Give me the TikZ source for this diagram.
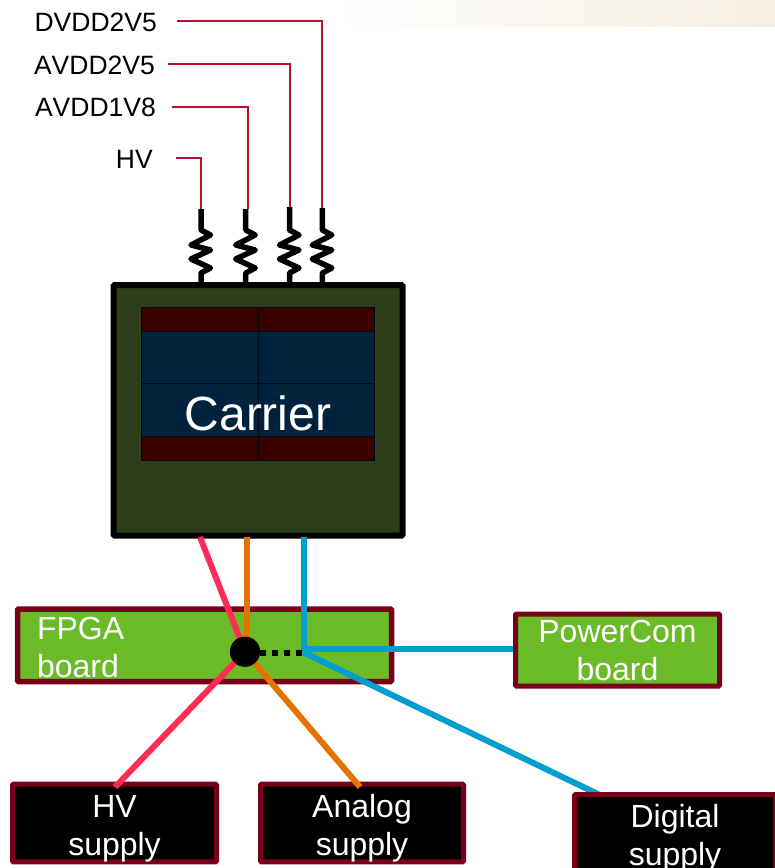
\documentclass[tikz,border=0pt]{standalone}
\usepackage{fontspec}
\setmainfont{Liberation Sans}
\definecolor{boxedge}{HTML}{7A0019}
\definecolor{wirered}{HTML}{B5122E}
\definecolor{boardgreen}{HTML}{6BBB29}
\definecolor{carriergreen}{HTML}{2E3D1A}
\definecolor{stripred}{HTML}{3A0000}
\definecolor{sensorblue}{HTML}{00233D}
\definecolor{pinkline}{HTML}{FF2D55}
\definecolor{orangeline}{HTML}{E57200}
\definecolor{blueline}{HTML}{009FD0}
\definecolor{banner}{HTML}{F5EEE2}
\tikzset{
  x=1pt,y=-1pt,
  boxbase/.style={draw=boxedge,line width=5pt,rounded corners=1pt,inner sep=0pt,text=white,
    font=\fontsize{32}{38}\selectfont,align=center},
  boardbox/.style={boxbase,fill=boardgreen},
  supplybox/.style={boxbase,fill=black},
  vlabel/.style={inner sep=0pt,font=\fontsize{26.5}{30}\selectfont\addfontfeature{Kerning=Off},text=black,anchor=base east},
  redwire/.style={draw=wirered,line width=2pt},
  resistor/.style={draw=black,line width=5.5pt,line join=round},
  feed/.style={line width=6pt},
  sensorcell/.style={draw=black!70!sensorblue,line width=.6pt,inner sep=0pt,outer sep=0pt},
}
\begin{document}
\begin{tikzpicture}
\clip (0,0) rectangle (775,868);
\shade[left color=white,middle color=banner!70!white,right color=banner,shading angle=90] (335,0) rectangle (775,26);

% carrier
\node[draw=black,fill=carriergreen,line width=6pt,rounded corners=1pt,minimum width=289pt,minimum height=250.5pt,inner sep=0pt] (carrier) at (258,410.25) {};
\node[sensorcell,fill=stripred,minimum width=116.5pt,minimum height=24pt] (s1) at (199.75,319) {};
\node[sensorcell,fill=stripred,minimum width=116.5pt,minimum height=24pt] (s2) at (316.25,319) {};
\node[sensorcell,fill=sensorblue,minimum width=116.5pt,minimum height=52.5pt] (s3) at (199.75,357.25) {};
\node[sensorcell,fill=sensorblue,minimum width=116.5pt,minimum height=52.5pt] (s4) at (316.25,357.25) {};
\node[sensorcell,fill=sensorblue,minimum width=116.5pt,minimum height=52.5pt] (s5) at (199.75,409.75) {};
\node[sensorcell,fill=sensorblue,minimum width=116.5pt,minimum height=52.5pt] (s6) at (316.25,409.75) {};
\node[sensorcell,fill=stripred,minimum width=116.5pt,minimum height=24pt] (s7) at (199.75,448) {};
\node[sensorcell,fill=stripred,minimum width=116.5pt,minimum height=24pt] (s8) at (316.25,448) {};
\node[inner sep=0pt,text=white,font=\fontsize{48}{52}\selectfont,anchor=base] (carriertext) at (258,430) {Carrier};

% voltage labels
\node[vlabel] (dvdd) at (157,31) {DVDD2V5};
\node[vlabel] (avddb) at (155,74) {AVDD2V5};
\node[vlabel] (avdda) at (156,116) {AVDD1V8};
\node[vlabel] (hvlab) at (153,168) {HV};
\coordinate (wd) at (177,21);
\coordinate (wc) at (168,64);
\coordinate (wb) at (172,107);
\coordinate (wa) at (176,158);

% resistors
\foreach \n/\x/\y in {a/201/209,b/245.7/209,c/289.5/207,d/322.3/208}{
  \coordinate (r\n top) at (\x,\y);
  \coordinate (r\n bot) at (\x,283);
  \draw[resistor] (r\n top) -- (\x,230) -- (\x+9.5,235) -- (\x-10,245) -- (\x+9.5,250) -- (\x-10,259) -- (\x+9.5,268) -- (\x,273) -- (r\n bot);
}
\coordinate (rbwire) at (247.7,209);
\draw[redwire] (wd) -| (rdtop);
\draw[redwire] (wc) -| (rctop);
\draw[redwire] (wb) -| (rbwire);
\draw[redwire] (wa) -| (ratop);

% boards
\node[boardbox,line width=5.5pt,minimum width=374pt,minimum height=72.5pt,text width=335pt,align=left] (fpga) at (204.5,645.25) {\rule{0pt}{27pt}FPGA\\board};
\node[boardbox,minimum width=204pt,minimum height=72pt] (powercom) at (617.5,650) {\rule{0pt}{24pt}PowerCom\\board};

% feeds
\coordinate (cp) at (200,537);
\coordinate (co) at (247,537);
\coordinate (cb) at (303.7,537);
\node[circle,fill=black,minimum size=30pt,inner sep=0pt] (hub) at (245,651.7) {};
\coordinate (jb) at (303.7,649);
\coordinate (jd) at (303.7,652.5);

\draw[feed,pinkline] (cp) -- (hub.center);
\draw[feed,orangeline] (co) -- (co |- hub.center);
\draw[feed,blueline,line join=miter] (cb) -- (jb) -- (jb -| powercom.west);

% supplies
\node[supplybox,minimum width=204pt,minimum height=73pt] (hvs) at (114.5,823) {\rule{0pt}{33pt}HV\\supply};
\node[supplybox,minimum width=203pt,minimum height=73pt] (ans) at (362,823) {\rule{0pt}{33pt}Analog\\supply};
\coordinate (dstart) at (604,797);
\coordinate (hvstart) at (115,787);
\coordinate (anstart) at (360,787);
\draw[feed,pinkline] (hub.center) -- (hvstart);
\draw[feed,orangeline] (hub.center) -- (anstart);
\draw[feed,blueline] (jd) -- (dstart);
\node[supplybox,minimum width=201pt,minimum height=74pt] (dig) at (675,833.5) {\rule{0pt}{33pt}Digital\\supply};

\node[circle,fill=black,minimum size=30pt,inner sep=0pt] at (hub) {};
\draw[black,line width=6pt,dash pattern=on 6pt off 6pt] (hub.east |- jd) -- (jd);
\end{tikzpicture}
\end{document}
